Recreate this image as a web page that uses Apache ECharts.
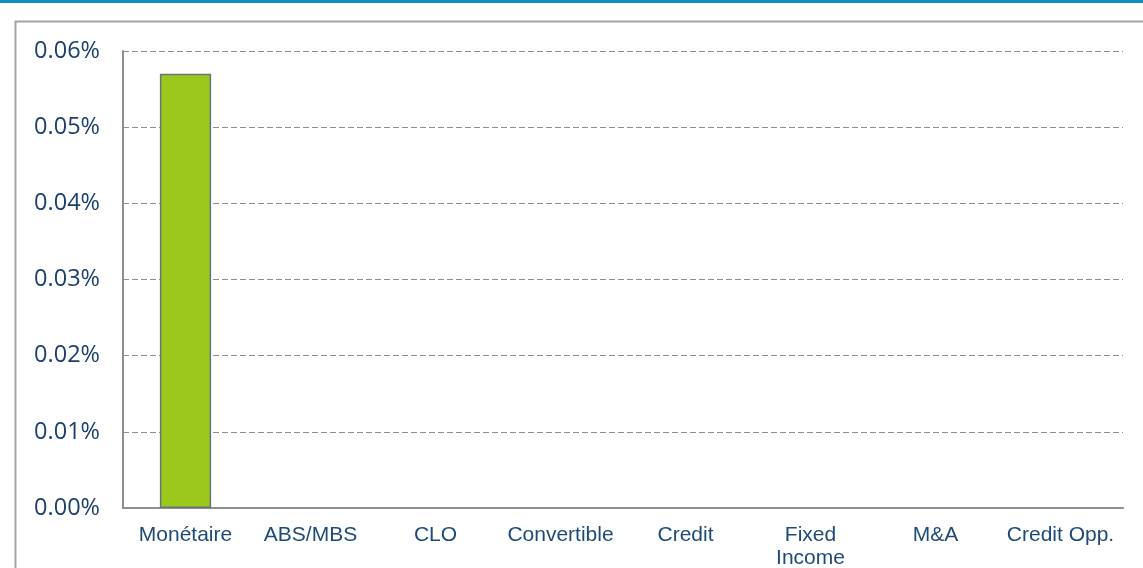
<!DOCTYPE html>
<html>
<head>
<meta charset="utf-8">
<script src="https://cdn.jsdelivr.net/npm/echarts@6/dist/echarts.min.js"></script>
<style>
  html, body { margin: 0; padding: 0; background: #fff; }
  #chart { width: 1143px; height: 568px; }
</style>
</head>
<body>
<div id="chart"></div>
<script>
// categories and values (values in %)
var categories = ['Monétaire', 'ABS/MBS', 'CLO', 'Convertible', 'Credit', 'Fixed\nIncome', 'M&A', 'Credit Opp.'];
var values = [0.057, null, null, null, null, null, null, null];
var yMin = 0, yMax = 0.06, yStep = 0.01;

var chart = echarts.init(document.getElementById('chart'));
var option = {
	animation: false,
	grid: {
		left: 123,
		right: 20,
		top: 51,
		bottom: 60,
		containLabel: false,
		outerBoundsMode: 'none'
	},
	graphic: [
		{
			type: 'rect',
			shape: { x: 0, y: 0, width: 1143, height: 3 },
			style: { fill: '#138dbd' },
			silent: true
		},
		{
			type: 'rect',
			shape: { x: 15.5, y: 21.5, width: 1200, height: 600 },
			style: { fill: 'none', stroke: '#a0a4a8', lineWidth: 2 },
			silent: true,
			z: -1
		}
	],
	xAxis: {
		type: 'category',
		data: categories,
		axisLine: { lineStyle: { color: '#8c9094', width: 2 } },
		axisTick: { show: false },
		axisLabel: {
			color: '#1f4a78',
			fontSize: 21,
			fontFamily: 'Liberation Sans, Arial, sans-serif',
			margin: 16,
			lineHeight: 23,
			interval: 0
		}
	},
	yAxis: {
		type: 'value',
		min: yMin,
		max: yMax,
		interval: yStep,
		axisLine: { show: true, lineStyle: { color: '#8c9094', width: 2 } },
		axisTick: { show: false },
		splitLine: {
			lineStyle: { color: '#8a8e92', type: [6, 3], width: 1 }
		},
		axisLabel: {
			color: '#1c3f6e',
			fontSize: 23.5,
			fontFamily: 'Open Sans, Noto Sans, sans-serif',
			margin: 23,
			formatter: function (v) { return v.toFixed(2) + '%'; }
		}
	},
	series: [{
		type: 'bar',
		data: values,
		barWidth: '41%',
		itemStyle: {
			color: '#9bc81b',
			borderColor: '#66757a',
			borderWidth: 1.5
		}
	}]
};
chart.setOption(option);
</script>
</body>
</html>
